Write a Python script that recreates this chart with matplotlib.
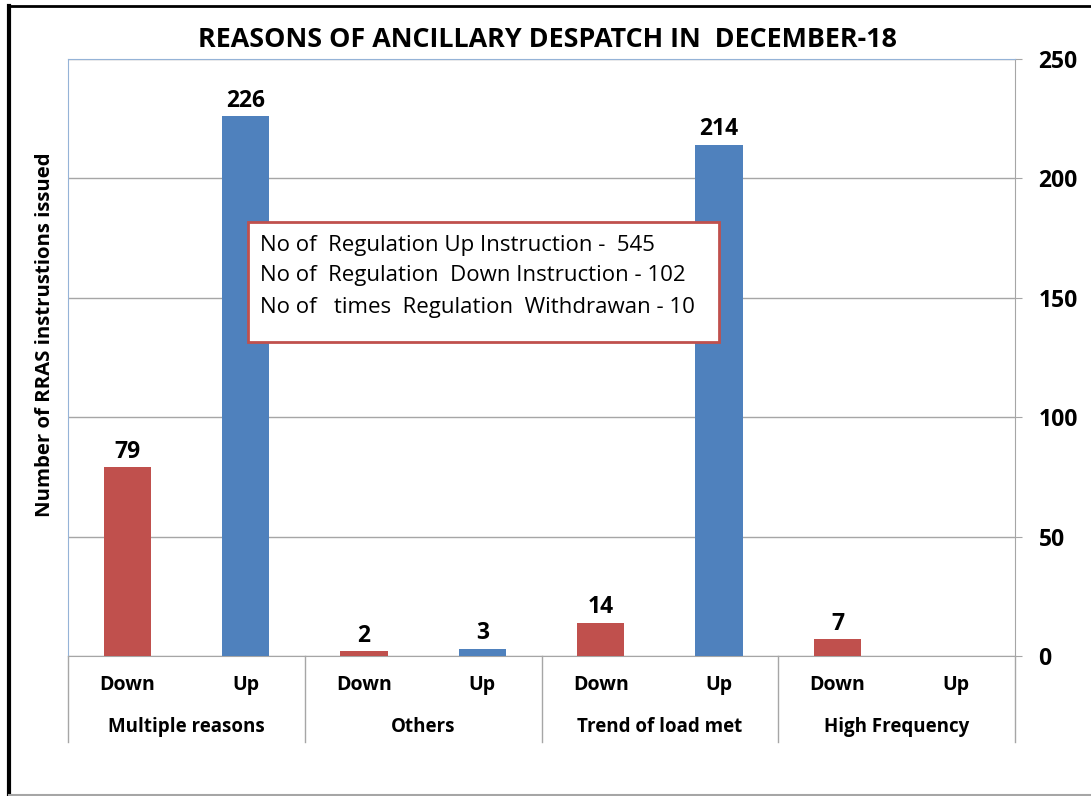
import matplotlib
matplotlib.use("Agg")
import matplotlib.pyplot as plt
from matplotlib.patches import Rectangle
from matplotlib.lines import Line2D

plt.rcParams['font.family'] = ['Open Sans', 'DejaVu Sans']

# data
groups = ['Multiple reasons', 'Others', 'Trend of load met', 'High Frequency']
subcats = ['Down', 'Up']
down_vals = [79, 2, 14, 7]
up_vals = [226, 3, 214, None]
y_ticks = [0, 50, 100, 150, 200, 250]
title = 'REASONS OF ANCILLARY DESPATCH IN  DECEMBER-18'
ylabel = 'Number of RRAS instrustions issued'
box_lines = ['No of  Regulation Up Instruction -  545',
             'No of  Regulation  Down Instruction - 102',
             'No of   times  Regulation  Withdrawan - 10']

red = '#C0504D'
blue = '#4F81BD'
grid_c = '#A6A6A6'
edge_blue = '#95B3D7'

W, H = 1091, 796
fig = plt.figure(figsize=(W / 100, H / 100), dpi=100)

def fx(px):
    return px / W

def fy(py):
    return 1 - py / H

ax = fig.add_axes([fx(68), fy(656), fx(1015) - fx(68), fy(59) - fy(656)])

# bars
xs, vals, cols = [], [], []
for i in range(len(groups)):
    for j, v in enumerate([down_vals[i], up_vals[i]]):
        xs.append(i * 2 + j)
        vals.append(v)
        cols.append(red if j == 0 else blue)

for x, v, c in zip(xs, vals, cols):
    if v is None:
        continue
    ax.bar(x, v, width=0.4, color=c, zorder=3)
    ax.text(x, v + 1.5, str(v), ha='center', va='bottom',
            fontsize=16.5, fontweight='bold', zorder=4)

ax.set_xlim(-0.5, 7.5)
ax.set_ylim(0, 250)
ax.set_yticks(y_ticks)
ax.yaxis.tick_right()
ax.tick_params(axis='y', length=5, color=grid_c, pad=12,
               labelsize=16.5)
for lab in ax.get_yticklabels():
    lab.set_fontweight('bold')
ax.set_xticks([])
ax.grid(axis='y', color=grid_c, linewidth=1, zorder=0)

ax.spines['top'].set_color(edge_blue)
ax.spines['left'].set_color(edge_blue)
ax.spines['right'].set_color(grid_c)
ax.spines['bottom'].set_color(grid_c)

# category labels
for x in xs:
    ax.text(x, -0.049, subcats[x % 2], transform=ax.get_xaxis_transform(),
            ha='center', va='center', fontsize=14, fontweight='bold')
for i, g in enumerate(groups):
    ax.text(i * 2 + 0.5, -0.119, g, transform=ax.get_xaxis_transform(),
            ha='center', va='center', fontsize=13.5, fontweight='bold')
for b in [-0.5, 1.5, 3.5, 5.5, 7.5]:
    ax.add_line(Line2D([b, b], [0, -0.144], transform=ax.get_xaxis_transform(),
                       color=grid_c, linewidth=1, clip_on=False))

# title and y label
fig.text(fx(547), fy(40), title, ha='center', va='center',
         fontsize=19.4, fontweight='bold')
fig.text(fx(45), fy(335), ylabel, ha='center', va='center', rotation=90,
         fontsize=14.7, fontweight='bold')

# info box
fig.patches.append(Rectangle((fx(248), fy(342)), fx(719) - fx(248), fy(222) - fy(342),
                             transform=fig.transFigure, facecolor='white',
                             edgecolor=red, linewidth=2, zorder=5))
for k, line in enumerate(box_lines):
    fig.text(fx(260), fy(245 + 31 * k), line, ha='left', va='center',
             fontsize=16, zorder=6)

# outer frame
fig.add_artist(Line2D([fx(9), fx(9)], [fy(6), fy(795)], transform=fig.transFigure,
                      color='black', linewidth=3))
fig.add_artist(Line2D([fx(8), 1], [fy(6), fy(6)], transform=fig.transFigure,
                      color='black', linewidth=2))
fig.add_artist(Line2D([fx(9), 1], [fy(795), fy(795)], transform=fig.transFigure,
                      color=grid_c, linewidth=1.5))

fig.savefig('out.png', dpi=100)
